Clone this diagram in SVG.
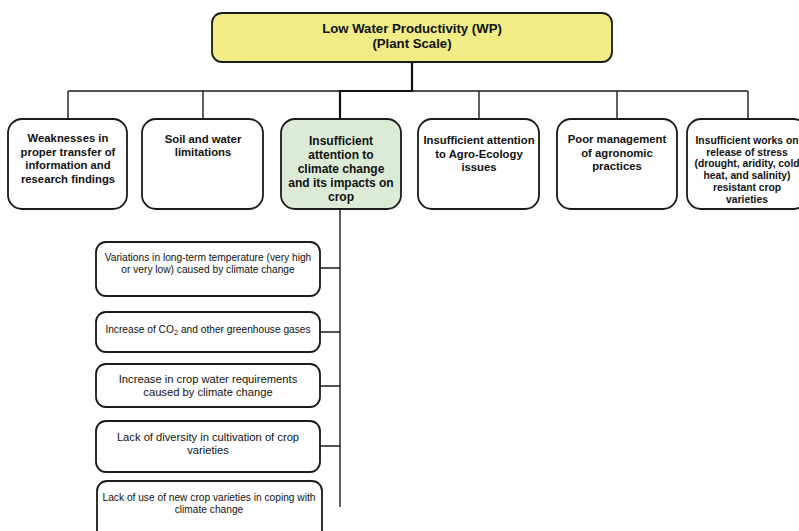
<svg xmlns="http://www.w3.org/2000/svg" width="799" height="531" viewBox="0 0 799 531">
  <style>
    .box { fill: #ffffff; stroke: #1a1a1a; stroke-width: 1.8; }
    .root { fill: #f0ec86; stroke: #1a1a1a; stroke-width: 1.8; }
    .focus { fill: #dcebd6; stroke: #1a1a1a; stroke-width: 1.8; }
    .wire { fill: none; stroke: #1a1a1a; stroke-width: 1.4; }
    .wire-main { fill: none; stroke: #111111; stroke-width: 2.2; }
    text { font-family: "Liberation Sans", Arial, sans-serif; fill: #111111; text-anchor: middle; }
    .t-root { font-size: 13.2px; font-weight: bold; }
    .t-cat { font-size: 11.3px; font-weight: bold; }
    .t-focus { font-size: 12px; font-weight: bold; }
    .t-small { font-size: 10.3px; font-weight: bold; }
    .t-sub { font-size: 10.2px; }
    .t-sub-lg { font-size: 11.2px; }
  </style>
  <rect width="799" height="531" fill="#ffffff"/>

  <g id="connectors">
    <path class="wire" d="M68 91 H748 M68 91 V119 M203 91 V119 M479 91 V119 M617 91 V119 M748 91 V119"/>
    <path class="wire-main" d="M412 62 V91 H340 V119"/>
    <path class="wire" d="M340 209 V507 M320 268 H340 M320 332 H340 M320 386 H340 M320 446 H340"/>
  </g>

  <g id="root">
    <rect class="root" x="212" y="13" width="400" height="49" rx="10"/>
    <text class="t-root" x="412" y="33">Low Water Productivity (WP)</text>
    <text class="t-root" x="412" y="48">(Plant Scale)</text>
  </g>

  <g id="cause-transfer">
    <rect class="box" x="8" y="119" width="119" height="90" rx="14"/>
    <text class="t-cat" x="68" y="142">Weaknesses in</text>
    <text class="t-cat" x="68" y="156">proper transfer of</text>
    <text class="t-cat" x="68" y="169">information and</text>
    <text class="t-cat" x="68" y="183">research findings</text>
  </g>

  <g id="cause-soil">
    <rect class="box" x="142" y="119" width="121" height="90" rx="14"/>
    <text class="t-cat" x="203" y="143">Soil and water</text>
    <text class="t-cat" x="203" y="156">limitations</text>
  </g>

  <g id="cause-climate">
    <rect class="focus" x="281" y="119" width="120" height="90" rx="14"/>
    <text class="t-focus" x="341" y="145">Insufficient</text>
    <text class="t-focus" x="341" y="159">attention to</text>
    <text class="t-focus" x="341" y="173">climate change</text>
    <text class="t-focus" x="341" y="187">and its impacts on</text>
    <text class="t-focus" x="341" y="201">crop</text>
  </g>

  <g id="cause-agroecology">
    <rect class="box" x="418" y="119" width="121" height="90" rx="14"/>
    <text class="t-cat" x="479" y="144">Insufficient attention</text>
    <text class="t-cat" x="479" y="158">to Agro-Ecology</text>
    <text class="t-cat" x="479" y="171">issues</text>
  </g>

  <g id="cause-management">
    <rect class="box" x="557" y="119" width="120" height="90" rx="14"/>
    <text class="t-cat" x="617" y="143">Poor management</text>
    <text class="t-cat" x="617" y="157">of agronomic</text>
    <text class="t-cat" x="617" y="170">practices</text>
  </g>

  <g id="cause-stress">
    <rect class="box" x="687" y="119" width="120" height="90" rx="14"/>
    <text class="t-small" x="747" y="144">Insufficient works on</text>
    <text class="t-small" x="747" y="155.5">release of stress</text>
    <text class="t-small" x="747" y="167">(drought, aridity, cold</text>
    <text class="t-small" x="747" y="179">heat, and salinity)</text>
    <text class="t-small" x="747" y="191">resistant crop</text>
    <text class="t-small" x="747" y="202.5">varieties</text>
  </g>

  <g id="effect-temperature">
    <rect class="box" x="96" y="242" width="224" height="54" rx="10"/>
    <text class="t-sub" x="208" y="261">Variations in long-term temperature (very high</text>
    <text class="t-sub" x="208" y="273">or very low) caused by climate change</text>
  </g>

  <g id="effect-co2">
    <rect class="box" x="96" y="312" width="224" height="40" rx="10"/>
    <text class="t-sub" x="208" y="333">Increase of CO<tspan font-size="7.5" dy="1.5">2</tspan><tspan dy="-1.5"> and other greenhouse gases</tspan></text>
  </g>

  <g id="effect-water">
    <rect class="box" x="96" y="364" width="224" height="43" rx="10"/>
    <text class="t-sub-lg" x="208" y="383">Increase in crop water requirements</text>
    <text class="t-sub-lg" x="208" y="396">caused by climate change</text>
  </g>

  <g id="effect-diversity">
    <rect class="box" x="96" y="421" width="224" height="51" rx="10"/>
    <text class="t-sub-lg" x="208" y="441">Lack of diversity in cultivation of crop</text>
    <text class="t-sub-lg" x="208" y="454">varieties</text>
  </g>

  <g id="effect-varieties">
    <rect class="box" x="97" y="481" width="225" height="62" rx="10"/>
    <text class="t-sub" x="209" y="501">Lack of use of new crop varieties in coping with</text>
    <text class="t-sub" x="209" y="513">climate change</text>
  </g>
</svg>
